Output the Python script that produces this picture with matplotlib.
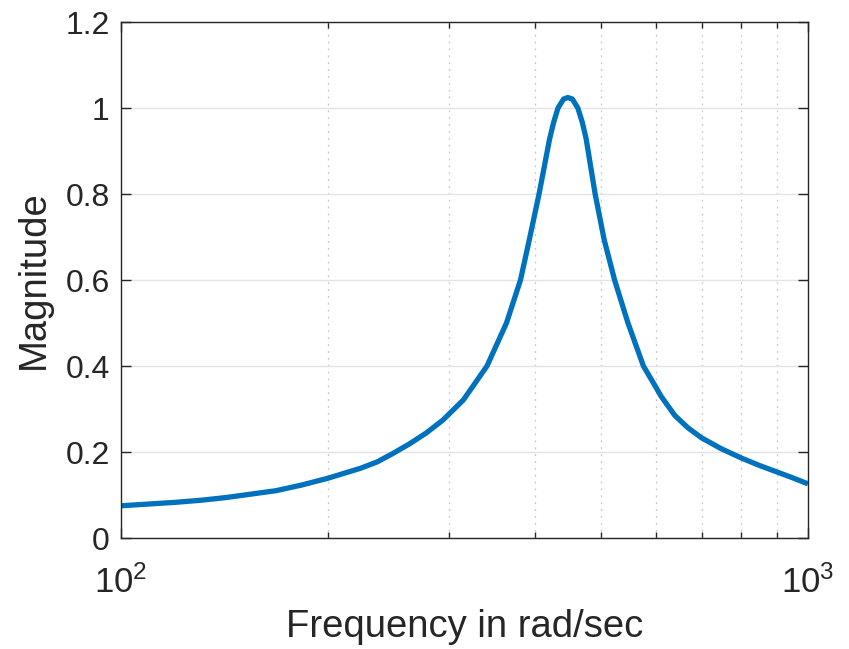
import matplotlib
matplotlib.use("Agg")
import matplotlib.pyplot as plt
import numpy as np
from matplotlib.ticker import FixedLocator, NullFormatter

# values (rad/sec, magnitude)
freq = [100, 120, 131, 142, 168, 183, 200, 223, 236, 249, 263, 278, 294, 315,
        341, 364, 381.5, 393, 406, 420.6, 426.4, 432.6, 440.8, 447, 453.9,
        462.4, 469.3, 475.5, 490, 505, 523, 547, 576, 600, 611, 640, 668, 700,
        747, 800, 849, 900, 950, 1000]
mag = [0.075, 0.083, 0.088, 0.094, 0.110, 0.123, 0.139, 0.162, 0.177, 0.197,
       0.219, 0.244, 0.274, 0.321, 0.400, 0.500, 0.600, 0.694, 0.800, 0.928,
       0.967, 1.000, 1.021, 1.0245, 1.021, 1.000, 0.967, 0.928, 0.800, 0.694,
       0.600, 0.500, 0.400, 0.352, 0.330, 0.285, 0.257, 0.233, 0.208, 0.186,
       0.169, 0.154, 0.140, 0.126]

yticks = [0, 0.2, 0.4, 0.6, 0.8, 1, 1.2]
ytick_labels = ["0", "0.2", "0.4", "0.6", "0.8", "1", "1.2"]
xticks = [100, 1000]
xtick_labels = [r"$\mathregular{10^{2}}$", r"$\mathregular{10^{3}}$"]
minor_x = [200, 300, 400, 500, 600, 700, 800, 900]

plt.rcParams["font.family"] = ["Liberation Sans", "DejaVu Sans"]
plt.rcParams["mathtext.fontset"] = "custom"
plt.rcParams["mathtext.rm"] = "Liberation Sans"

dark = "#262626"

fig = plt.figure(figsize=(8.49, 6.49), dpi=100)
ax = fig.add_axes([0.1425, 0.171, 0.8092, 0.795])

ax.plot(freq, mag, color="#0072BD", linewidth=3.8,
        solid_joinstyle="round", solid_capstyle="butt")

ax.set_xscale("log")
ax.set_xlim(100, 1000)
ax.set_ylim(0, 1.2)

ax.xaxis.set_major_locator(FixedLocator(xticks))
ax.set_xticklabels(xtick_labels)
ax.xaxis.set_minor_locator(FixedLocator(minor_x))
ax.xaxis.set_minor_formatter(NullFormatter())
ax.set_yticks(yticks)
ax.set_yticklabels(ytick_labels)

ax.grid(True, which="major", axis="y", color="#e3e3e3", linewidth=1.0)
ax.grid(True, which="minor", axis="x", color="#c8c8c8", linewidth=0.9,
        linestyle=(0, (1.5, 4)))
ax.set_axisbelow(True)

ax.tick_params(which="both", direction="in", top=True, right=True,
               colors=dark, width=1.0)
ax.tick_params(which="major", length=7)
ax.tick_params(which="minor", length=4.5)
ax.tick_params(axis="y", labelsize=23, pad=8)
ax.tick_params(axis="x", labelsize=25, pad=20)
for s in ax.spines.values():
    s.set_color(dark)
    s.set_linewidth(1.0)

ax.set_xlabel("Frequency in rad/sec", fontsize=27.5, color=dark, labelpad=6)
ax.set_ylabel("Magnitude", fontsize=27.5, color=dark, labelpad=10)

fig.savefig("out.png", dpi=100)
